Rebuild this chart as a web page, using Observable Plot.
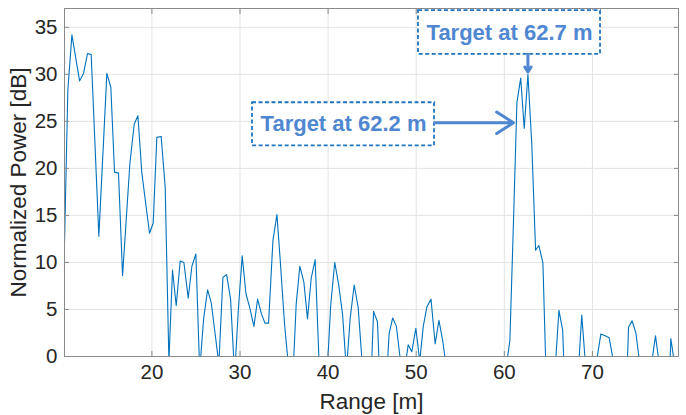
<!DOCTYPE html>
<html><head><meta charset="utf-8">
<script src="https://cdn.jsdelivr.net/npm/d3@7"></script>
<script src="https://cdn.jsdelivr.net/npm/@observablehq/plot@0.6"></script>
<style>
html,body{margin:0;padding:0;background:#fff;}
#chart{width:686px;height:415px;}
</style></head><body><div id="chart"></div>
<script>
// Range bins [m] (vertices; values below 0 dB are clipped by the axes)
const rangeM = [10.08,10.46,10.92,11.79,12.24,12.69,13.11,13.98,14.89,15.34,
  15.76,16.21,16.67,17.5,17.99,18.41,18.86,19.73,20.15,20.56,
  21.05,21.51,21.93,22.34,22.76,23.21,23.63,24.12,24.54,24.99,
  25.42,25.87,26.32,26.74,27.6,28.06,28.48,28.93,29.39,29.83,
  30.25,30.67,31.09,31.58,32.0,32.41,32.83,33.24,33.74,34.19,
  34.62,35.05,35.5,35.93,36.38,36.79,37.25,37.66,38.08,38.53,
  38.97,39.41,39.85,40.29,40.75,41.19,41.64,42.08,42.5,42.96,
  43.41,43.85,44.29,44.73,45.16,45.6,46.04,46.48,46.92,47.33,
  47.75,48.19,48.63,49.09,49.5,49.96,50.4,50.8,51.22,51.68,
  52.15,52.58,53.02,53.46,60.19,60.63,61.03,61.43,61.86,62.26,
  62.68,63.12,63.55,63.92,64.38,64.8,65.26,65.72,66.2,66.62,
  67.06,68.35,68.79,69.23,70.52,70.96,71.45,71.9,72.34,73.66,
  74.1,74.5,74.93,75.37,76.72,77.16,77.6,78.46,78.9,79.34];
// Normalized power [dB]
const powerDb = [12.0,28.3,34.2,29.3,30.1,32.2,32.1,12.8,30.1,28.6,
  19.6,19.5,8.6,20.5,24.7,25.6,19.5,13.1,14.2,23.3,
  23.4,18.0,-0.5,9.2,5.4,10.15,10.0,6.2,9.6,10.9,
  -1.5,4.0,7.1,5.7,-0.8,8.4,8.7,6.1,-2,5.25,
  10.7,6.7,5.25,3.2,6.1,4.6,3.55,3.55,12.35,15.1,
  9.5,3.5,-1,-3.7,5.6,9.6,7.9,4.0,8.3,10.3,
  -0.5,-5,-2.5,5.4,10.0,7.7,4.5,-1.5,4.0,7.6,
  5.25,-0.5,-5,-6,4.8,3.7,-6.5,-5.1,2.4,4.1,
  3.2,-0.3,-1.8,1.25,0.5,3.0,-0.5,3.2,5.3,6.1,
  1.35,3.85,1.6,-1.5,-1.3,1.7,14.0,27.0,29.6,24.25,
  30.0,22.5,11.3,11.8,9.95,-4,-8,-2,4.9,2.8,
  -8,-2.3,4.4,-1.1,-0.2,2.4,2.2,2.0,-0.3,-9,
  3.1,3.8,2.5,-0.7,-0.7,2.2,-0.9,-10,1.9,-0.9];

const xTicks = [20,30,40,50,60,70];
const yTicks = [0,5,10,15,20,25,30,35];
const xLabel = "Range [m]";
const yLabel = "Normalized Power [dB]";

// Annotations (data coordinates)
const noteLabels = ["Target at 62.7 m", "Target at 62.2 m"];
const noteBoxX1 = [50.26, 31.42];
const noteBoxX2 = [70.92, 52.08];
const noteBoxY1 = [32.13, 22.4];
const noteBoxY2 = [36.77, 26.98];
const arrowX1 = [62.68, 52.08];
const arrowY1 = [32.13, 24.85];
const arrowX2 = [62.68, 61.04];
const arrowY2 = [30.25, 24.85];

const data = rangeM.map((x, i) => ({x, y: powerDb[i]}));
const boxes = noteLabels.map((label, i) => ({
  label, x1: noteBoxX1[i], x2: noteBoxX2[i], y1: noteBoxY1[i], y2: noteBoxY2[i],
  cx: (noteBoxX1[i] + noteBoxX2[i]) / 2, cy: (noteBoxY1[i] + noteBoxY2[i]) / 2
}));
const arrows = arrowX1.map((x1, i) => ({x1, y1: arrowY1[i], x2: arrowX2[i], y2: arrowY2[i]}));

const axisGrey = "#8a8a8a";
const textColor = "#262626";
const noteBlue = "#4f87d1";

const chart = Plot.plot({
  width: 686, height: 415,
  marginLeft: 64, marginRight: 8, marginTop: 8, marginBottom: 59,
  style: {fontFamily: "'Liberation Sans', Arial, Helvetica, sans-serif", fontSize: "20.5px", color: textColor, background: "#fff", overflow: "visible"},
  x: {domain: [10.08, 79.77]},
  y: {domain: [0, 37]},
  marks: [
    Plot.gridX(xTicks, {stroke: "#e3e3e3", strokeOpacity: 1}),
    Plot.gridY(yTicks, {stroke: "#e3e3e3", strokeOpacity: 1}),
    Plot.line(data, {x: "x", y: "y", stroke: "#0072BD", strokeWidth: 1.1, clip: true}),
    Plot.frame({stroke: axisGrey}),
    Plot.axisX(xTicks, {anchor: "bottom", tickSize: -5, tickPadding: 13, stroke: axisGrey, fill: textColor,
      label: null, fontSize: 20.5}),
    Plot.axisX({anchor: "bottom", ticks: [], label: xLabel, labelAnchor: "center", labelOffset: 52, labelArrow: "none", fill: textColor, fontSize: 22.5}),
    Plot.axisX(xTicks, {anchor: "top", tickSize: -5, stroke: axisGrey, tickFormat: () => "", label: null}),
    Plot.axisY(yTicks, {anchor: "left", tickSize: -5, tickPadding: 12, stroke: axisGrey, fill: textColor,
      label: null, fontSize: 20.5}),
    Plot.axisY({anchor: "left", ticks: [], label: yLabel, labelAnchor: "center", labelOffset: 54, labelArrow: "none", fill: textColor, fontSize: 22.5}),
    Plot.axisY(yTicks, {anchor: "right", tickSize: -5, stroke: axisGrey, tickFormat: () => "", label: null}),
    Plot.rect(boxes, {x1: "x1", x2: "x2", y1: "y1", y2: "y2", fill: "white", stroke: "#1f74c1", strokeWidth: 1.8, strokeDasharray: "4,2.5"}),
    Plot.text(boxes, {x: "cx", y: "cy", text: "label", fill: noteBlue, fontWeight: "bold", fontSize: 22}),
    Plot.arrow(arrows, {x1: "x1", y1: "y1", x2: "x2", y2: "y2", stroke: noteBlue, strokeWidth: 3, headLength: 10, headAngle: 65})
  ]
});
document.getElementById("chart").append(chart);
</script>
</body></html>
